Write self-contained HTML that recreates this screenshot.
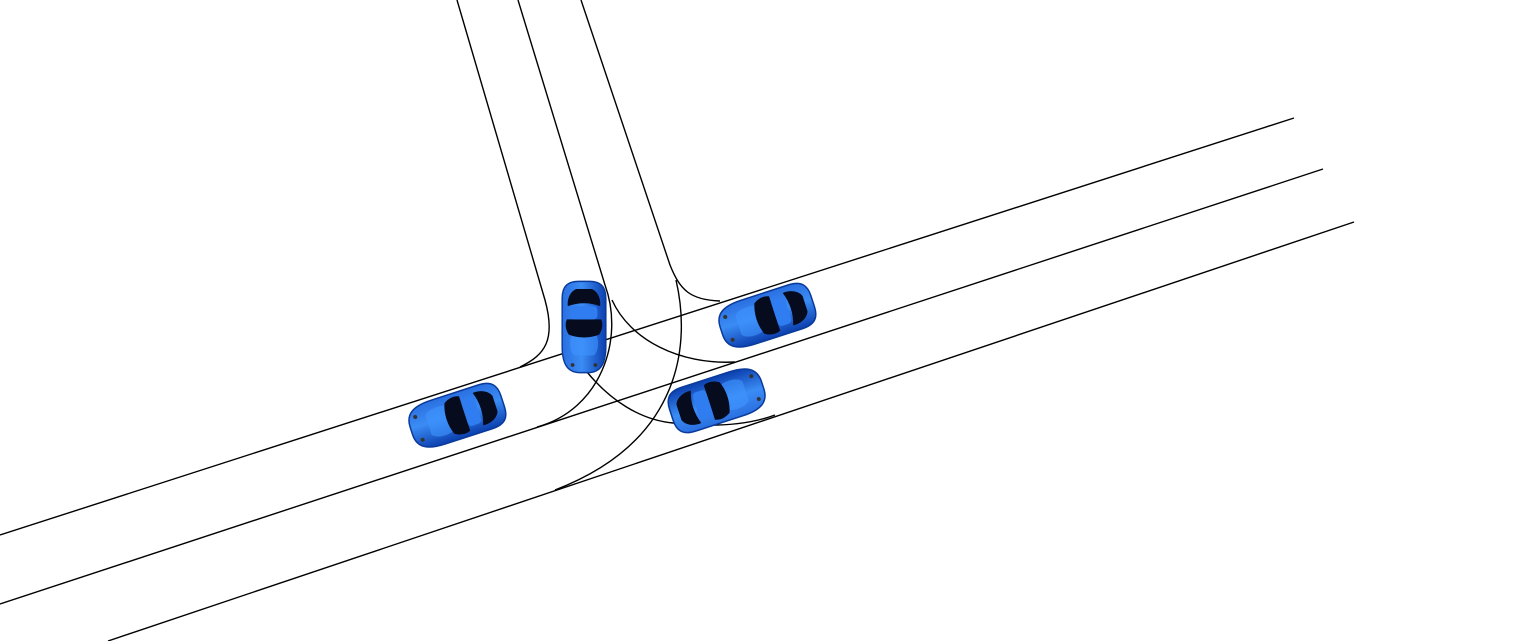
<!DOCTYPE html>
<html><head><meta charset="utf-8"><style>
html,body{margin:0;padding:0;background:#fff;width:1536px;height:641px;overflow:hidden}
svg{display:block}
</style></head><body>
<svg width="1536" height="641" viewBox="0 0 1536 641" xmlns="http://www.w3.org/2000/svg">
<defs>
<linearGradient id="bodyG" x1="0" y1="0" x2="0" y2="1">
<stop offset="0" stop-color="#2a6fe0"/><stop offset="0.45" stop-color="#3b8cf5"/><stop offset="1" stop-color="#0b3fae"/>
</linearGradient>
<g id="car">
<path d="M-48,-4 C-48,-18 -38,-23 -20,-23 L30,-23 C44,-23 48,-16 48,-6 L48,6 C48,16 44,23 30,23 L-20,23 C-38,23 -48,18 -48,4 Z" fill="url(#bodyG)" stroke="#0a3a9a" stroke-width="1.5"/>
<path d="M-30,-10 C-26,-16 -12,-16 -6,-12 L-6,12 C-12,16 -26,16 -30,10 Z" fill="#3f95ff" opacity="0.6"/>
<path d="M-8,-16 C-2,-20 4,-20 8,-18 L8,18 C4,20 -2,20 -8,16 C-12,6 -12,-6 -8,-16 Z" fill="#060b1e"/>
<path d="M22,-17 C30,-18 38,-14 40,-8 L40,8 C38,14 30,18 22,17 C26,6 26,-6 22,-17 Z" fill="#060b1e"/>
<rect x="8" y="-14" width="14" height="28" rx="4" fill="#2f7df0"/>
<circle cx="-40" cy="-12" r="2" fill="#333"/><circle cx="-40" cy="12" r="2" fill="#333"/>
</g>
</defs>
<g fill="none" stroke="#000" stroke-width="1.4">
<line x1="0" y1="535" x2="1294" y2="118"/>
<line x1="0" y1="604" x2="1323" y2="169"/>
<line x1="108" y1="641" x2="1354" y2="222"/>
<path d="M457,0 L545,300 C556,340 545,355 520,367"/>
<path d="M518,0 L605,285 C625,340 600,410 537,427"/>
<path d="M581,0 L670,265 C680,290 690,300 720,301"/>
<path d="M612,300 C630,340 680,365 735,362"/>
<path d="M676,280 C690,340 685,440 555,490"/>
<path d="M587,372 C610,400 640,420 673,423 C700,426 740,428 775,415"/>
</g>
<use href="#car" transform="translate(457,416) rotate(-18)"/>
<use href="#car" transform="translate(584,327) rotate(-90) scale(0.95)"/>
<use href="#car" transform="translate(767,316) rotate(-18)"/>
<use href="#car" transform="translate(717,400) rotate(162)"/>
</svg>
</body></html>
